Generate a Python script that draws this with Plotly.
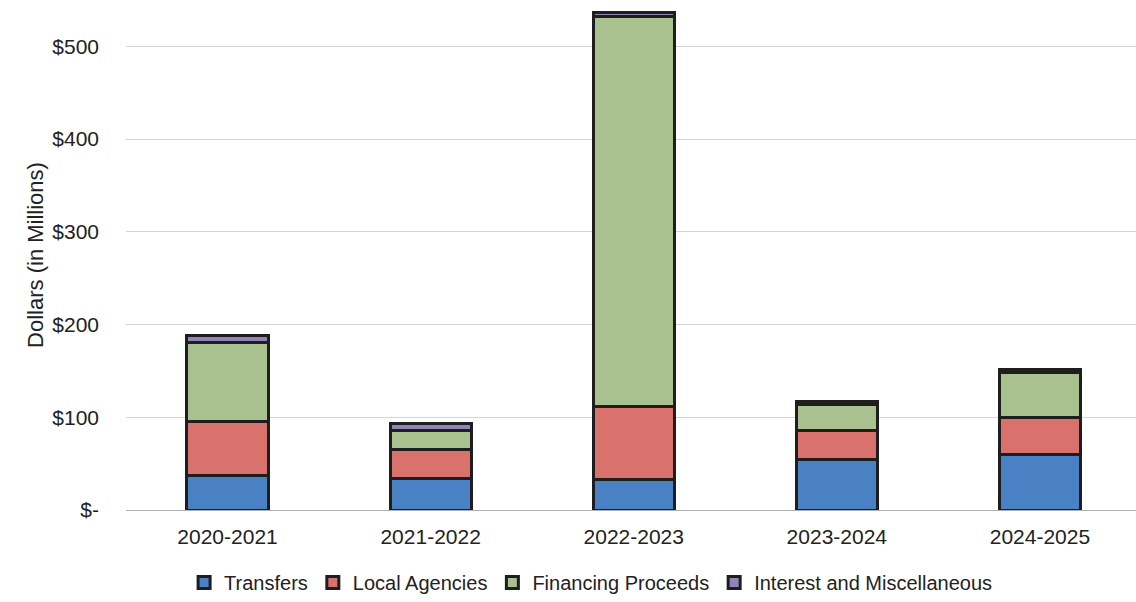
import plotly.graph_objects as go

years = ["2020-2021", "2021-2022", "2022-2023", "2023-2024", "2024-2025"]
transfers = [37, 34, 33, 55, 60]
local_agencies = [58, 31, 79, 31, 40]
financing = [86, 21, 420, 28, 48]
interest = [7, 7, 4, 3, 3]

series = [
    ("Transfers", transfers, "#4a80c4"),
    ("Local Agencies", local_agencies, "#d9716c"),
    ("Financing Proceeds", financing, "#a9c08f"),
    ("Interest and Miscellaneous", interest, "#9284bb"),
]

fig = go.Figure()
for name, vals, col in series:
    fig.add_trace(go.Bar(
        x=years, y=vals, name=name,
        marker=dict(color=col, line=dict(color="#1e1e1e", width=3)),
    ))

fig.update_layout(
    barmode="stack",
    bargap=0.6,
    width=1136, height=602,
    margin=dict(l=126, r=0, t=0, b=90),
    plot_bgcolor="white", paper_bgcolor="white",
    font=dict(family="Liberation Sans, Arial", size=21, color="#222222"),
    legend=dict(orientation="h", x=0.46, xanchor="center", y=-0.142, yanchor="middle",
                font=dict(size=20), traceorder="normal", itemwidth=30,
                tracegroupgap=0),
    showlegend=True,
)
fig.update_xaxes(range=[-0.5, 4.473], showline=True, linecolor="#b0b0b0", linewidth=1,
                 ticks="", tickfont=dict(size=21), ticklabelstandoff=8)
fig.update_yaxes(range=[0, 550], tickvals=[0, 100, 200, 300, 400, 500],
                 ticktext=["$-", "$100", "$200", "$300", "$400", "$500"],
                 showgrid=True, gridcolor="#d4d4d4", gridwidth=1, zeroline=False,
                 ticklabelstandoff=26, tickfont=dict(size=21),
                 title=dict(text="Dollars (in Millions)", font=dict(size=22), standoff=2))

fig.write_html("out.html")
